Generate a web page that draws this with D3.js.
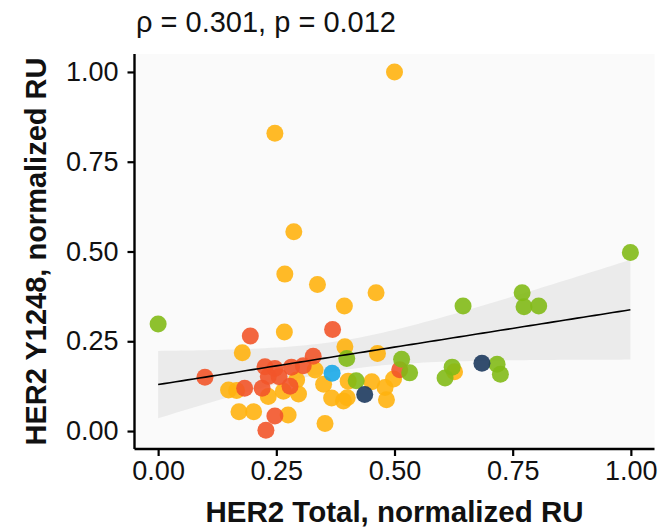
<!DOCTYPE html>
<html>
<head>
<meta charset="utf-8">
<script src="https://cdn.jsdelivr.net/npm/d3@7"></script>
<style>
  body { margin: 0; background: #fff; }
  svg { display: block; font-family: "Liberation Sans", Arial, sans-serif; }
</style>
</head>
<body>
<svg id="chart" width="664" height="530"></svg>
<script>
// points per group, [HER2 Total, HER2 Y1248]
var yellowPts = [
  [0.500, 1.000], [0.247, 0.829], [0.287, 0.555], [0.268, 0.437], [0.337, 0.408],
  [0.461, 0.385], [0.394, 0.348], [0.627, 0.165], [0.267, 0.276], [0.178, 0.218],
  [0.395, 0.235], [0.464, 0.216], [0.332, 0.170], [0.350, 0.130], [0.402, 0.139],
  [0.452, 0.137], [0.480, 0.121], [0.498, 0.145], [0.367, 0.092], [0.392, 0.084],
  [0.400, 0.093], [0.483, 0.087], [0.353, 0.021], [0.149, 0.114], [0.166, 0.113],
  [0.233, 0.096], [0.265, 0.111], [0.297, 0.103], [0.293, 0.142], [0.171, 0.054],
  [0.202, 0.054], [0.275, 0.045]
];
var greenPts = [
  [0.000, 0.298], [0.999, 0.497], [0.645, 0.348], [0.770, 0.385], [0.774, 0.346],
  [0.805, 0.348], [0.717, 0.186], [0.724, 0.158], [0.622, 0.178], [0.607, 0.148],
  [0.399, 0.202], [0.515, 0.200], [0.532, 0.162], [0.419, 0.140]
];
var redPts = [
  [0.195, 0.265], [0.099, 0.150], [0.369, 0.283], [0.328, 0.208], [0.307, 0.182],
  [0.511, 0.171], [0.226, 0.179], [0.247, 0.174], [0.282, 0.178], [0.233, 0.152],
  [0.256, 0.151], [0.183, 0.119], [0.220, 0.119], [0.279, 0.125], [0.247, 0.042],
  [0.228, 0.002]
];
var navyPts = [[0.685, 0.189], [0.437, 0.102]];
var cyanPts = [[0.368, 0.161]];

var groupNames = ["yellow", "red", "green", "cyan", "navy"];
var groupColors = ["#FFB30F", "#F2552A", "#82BA17", "#1AA9E8", "#1D3A5E"];
var groupData = [yellowPts, redPts, greenPts, cyanPts, navyPts];

var xTicks = [0, 0.25, 0.5, 0.75, 1];
var yTicks = [0, 0.25, 0.5, 0.75, 1];
var titleText = "\u03C1 = 0.301, p = 0.012";
var xLabel = "HER2 Total, normalized RU";
var yLabel = "HER2 Y1248, normalized RU";

var svg = d3.select("#chart");
var panel = { left: 134.5, right: 654.5, top: 54, bottom: 449 };

var x = d3.scaleLinear().domain([-0.05, 1.05]).range([panel.left, panel.right]);
var y = d3.scaleLinear().domain([-0.05, 1.05]).range([panel.bottom, panel.top]);

// panel background
svg.append("rect")
  .attr("x", panel.left).attr("y", panel.top)
  .attr("width", panel.right - panel.left)
  .attr("height", panel.bottom - panel.top)
  .attr("fill", "#FAFAFA");

// all points flattened, for the lm fit
var all = [];
groupData.forEach(function (g, i) {
  g.forEach(function (p) { all.push({ x: p[0], y: p[1], g: i }); });
});

var n = all.length;
var mx = d3.mean(all, function (d) { return d.x; });
var my = d3.mean(all, function (d) { return d.y; });
var sxx = d3.sum(all, function (d) { return (d.x - mx) * (d.x - mx); });
var sxy = d3.sum(all, function (d) { return (d.x - mx) * (d.y - my); });
var slope = sxy / sxx;
var icpt = my - slope * mx;
var sse = d3.sum(all, function (d) { var r = d.y - (icpt + slope * d.x); return r * r; });
var sigma = Math.sqrt(sse / (n - 2));
var tq = 2.0;

var xmin = d3.min(all, function (d) { return d.x; });
var xmax = d3.max(all, function (d) { return d.x; });
var fit = d3.range(0, 81).map(function (i) {
  var xv = xmin + (xmax - xmin) * i / 80;
  var fv = icpt + slope * xv;
  var se = sigma * Math.sqrt(1 / n + (xv - mx) * (xv - mx) / sxx);
  return { x: xv, f: fv, lo: fv - tq * se, hi: fv + tq * se };
});

svg.append("path")
  .datum(fit)
  .attr("fill", "#EBEBEB")
  .attr("d", d3.area()
    .x(function (d) { return x(d.x); })
    .y0(function (d) { return y(d.lo); })
    .y1(function (d) { return y(d.hi); }));

// points
svg.append("g")
  .selectAll("circle")
  .data(all)
  .enter().append("circle")
  .attr("cx", function (d) { return x(d.x); })
  .attr("cy", function (d) { return y(d.y); })
  .attr("r", 8.5)
  .attr("fill", function (d) { return groupColors[d.g]; })
  .attr("fill-opacity", 0.9);

svg.append("path")
  .datum(fit)
  .attr("fill", "none")
  .attr("stroke", "#000")
  .attr("stroke-width", 1.6)
  .attr("d", d3.line()
    .x(function (d) { return x(d.x); })
    .y(function (d) { return y(d.f); }));

// axes
var xAxis = svg.append("g")
  .attr("transform", "translate(0," + panel.bottom + ")")
  .call(d3.axisBottom(x).tickValues(xTicks).tickSize(7).tickPadding(5)
    .tickFormat(d3.format(".2f")));
var yAxis = svg.append("g")
  .attr("transform", "translate(" + panel.left + ",0)")
  .call(d3.axisLeft(y).tickValues(yTicks).tickSize(7).tickPadding(9)
    .tickFormat(d3.format(".2f")));

[xAxis, yAxis].forEach(function (a) {
  a.select(".domain").attr("stroke", "#000").attr("stroke-width", 2.4);
  a.selectAll(".tick line").attr("stroke", "#000").attr("stroke-width", 2.2);
  a.selectAll(".tick text")
    .attr("fill", "#111")
    .style("font-family", "Liberation Sans, Arial, sans-serif")
    .style("font-size", "27px");
});
xAxis.select(".domain").attr("d", "M" + panel.left + ",0H" + panel.right);
yAxis.select(".domain").attr("d", "M0," + panel.bottom + "V" + panel.top);

// labels
svg.append("text")
  .attr("x", 136).attr("y", 32)
  .style("font-size", "29px")
  .attr("fill", "#111")
  .text(titleText);

svg.append("text")
  .attr("x", (panel.left + panel.right) / 2).attr("y", 522)
  .attr("text-anchor", "middle")
  .style("font-size", "29.5px").style("font-weight", "bold")
  .attr("fill", "#111")
  .text(xLabel);

svg.append("text")
  .attr("transform", "translate(46," + ((panel.top + panel.bottom) / 2) + ") rotate(-90)")
  .attr("text-anchor", "middle")
  .style("font-size", "29px").style("font-weight", "bold")
  .attr("fill", "#111")
  .text(yLabel);
</script>
</body>
</html>
